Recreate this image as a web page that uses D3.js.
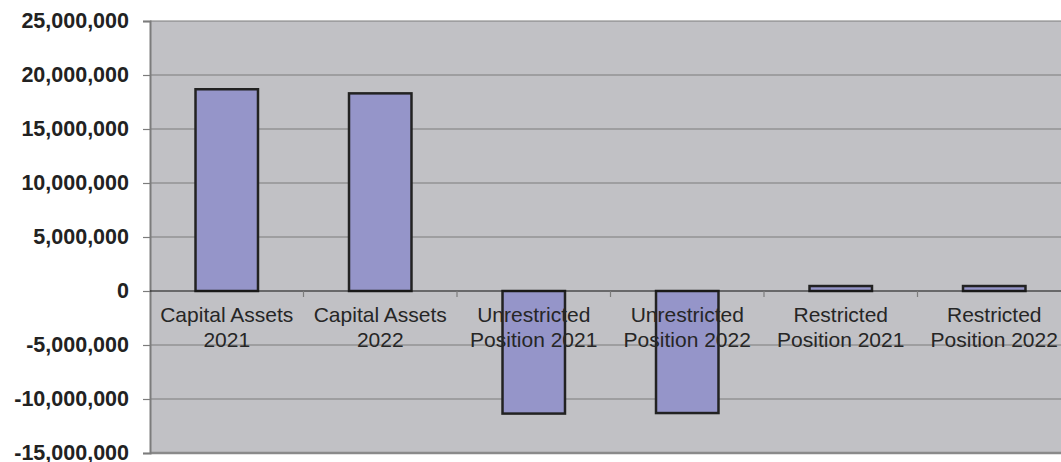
<!DOCTYPE html>
<html>
<head>
<meta charset="utf-8">
<script src="https://cdn.jsdelivr.net/npm/d3@7"></script>
<style>
  html, body { margin: 0; padding: 0; background: #ffffff; }
  svg { display: block; }
</style>
</head>
<body>
<div id="chart"></div>
<script>
(function () {
  "use strict";

  // ── Datos ──────────────────────────────────────────────
  const categories = [
    ["Capital Assets", "2021"],
    ["Capital Assets", "2022"],
    ["Unrestricted", "Position 2021"],
    ["Unrestricted", "Position 2022"],
    ["Restricted", "Position 2021"],
    ["Restricted", "Position 2022"],
  ];
  const values = [18680000, 18300000, -11350000, -11300000, 460000, 460000];
  const yTicks = [-15e6, -10e6, -5e6, 0, 5e6, 10e6, 15e6, 20e6, 25e6];

  // ── Setup SVG ──────────────────────────────────────────
  const width = 1061;
  const height = 462;
  const M = { top: 21, left: 150, bottom: 453 };
  const plotRight = 1071;

  const svg = d3.select("#chart").append("svg").attr("width", width).attr("height", height);

  const keys = categories.map((c, i) => i);
  const x = d3.scaleBand().domain(keys).range([M.left, plotRight]).paddingInner(0.593).paddingOuter(0.2965);
  const y = d3.scaleLinear().domain([-15e6, 25e6]).range([M.bottom, M.top]);

  // Fondo
  svg.append("rect")
    .attr("x", M.left).attr("y", M.top)
    .attr("width", plotRight - M.left).attr("height", M.bottom - M.top)
    .attr("fill", "#c1c1c5");

  // Rejilla
  svg.append("g")
    .selectAll("line")
    .data(yTicks.filter((d) => d !== 0 && d !== -15e6))
    .join("line")
    .attr("x1", M.left).attr("x2", plotRight)
    .attr("y1", (d) => y(d)).attr("y2", (d) => y(d))
    .attr("stroke", "#7c7c7c").attr("stroke-width", 1.2);

  // Borde inferior
  svg.append("line")
    .attr("x1", M.left).attr("x2", plotRight)
    .attr("y1", y(-15e6)).attr("y2", y(-15e6))
    .attr("stroke", "#8a8a8a").attr("stroke-width", 2.5);

  // Eje Y
  const yAxis = d3.axisLeft(y).tickValues(yTicks).tickSize(7).tickPadding(14).tickFormat(d3.format(","));
  const gY = svg.append("g").attr("transform", `translate(${M.left},0)`).call(yAxis);
  gY.select(".domain").attr("stroke", "#7c7c7c").attr("stroke-width", 2);
  gY.selectAll(".tick line").attr("stroke", "#7c7c7c").attr("stroke-width", 1.2);
  gY.selectAll(".tick text")
    .attr("fill", "#222")
    .attr("font-family", "'Liberation Sans', Arial, sans-serif")
    .attr("font-size", "21.5px")
    .attr("font-weight", "bold")
    .text((d) => (d < 0 ? "-" + d3.format(",")(-d) : d3.format(",")(d)));

  // Barras
  svg.append("g")
    .selectAll("rect")
    .data(values)
    .join("rect")
    .attr("x", (d, i) => x(i))
    .attr("width", x.bandwidth())
    .attr("y", (d) => y(Math.max(0, d)))
    .attr("height", (d) => Math.abs(y(d) - y(0)))
    .attr("fill", "#9595c9")
    .attr("stroke", "#222")
    .attr("stroke-width", 2.5);

  // Línea cero
  svg.append("line")
    .attr("x1", M.left).attr("x2", plotRight)
    .attr("y1", y(0)).attr("y2", y(0))
    .attr("stroke", "#111").attr("stroke-width", 1.2);

  // Ticks de categoría
  const step = x.step();
  svg.append("g")
    .selectAll("line")
    .data(d3.range(1, categories.length))
    .join("line")
    .attr("x1", (i) => M.left + i * step).attr("x2", (i) => M.left + i * step)
    .attr("y1", y(0)).attr("y2", y(0) + 6)
    .attr("stroke", "#7c7c7c").attr("stroke-width", 1.2);

  // Etiquetas de categoría
  const labels = svg.append("g")
    .selectAll("text")
    .data(categories)
    .join("text")
    .attr("x", (d, i) => x(i) + x.bandwidth() / 2)
    .attr("y", 322)
    .attr("text-anchor", "middle")
    .attr("fill", "#262626")
    .attr("font-family", "'Liberation Sans', Arial, sans-serif")
    .attr("font-size", "21px");

  labels.each(function (d) {
    const t = d3.select(this);
    d.forEach((line, k) => {
      t.append("tspan").attr("x", t.attr("x")).attr("dy", k === 0 ? 0 : 25).text(line);
    });
  });
})();
</script>
</body>
</html>
